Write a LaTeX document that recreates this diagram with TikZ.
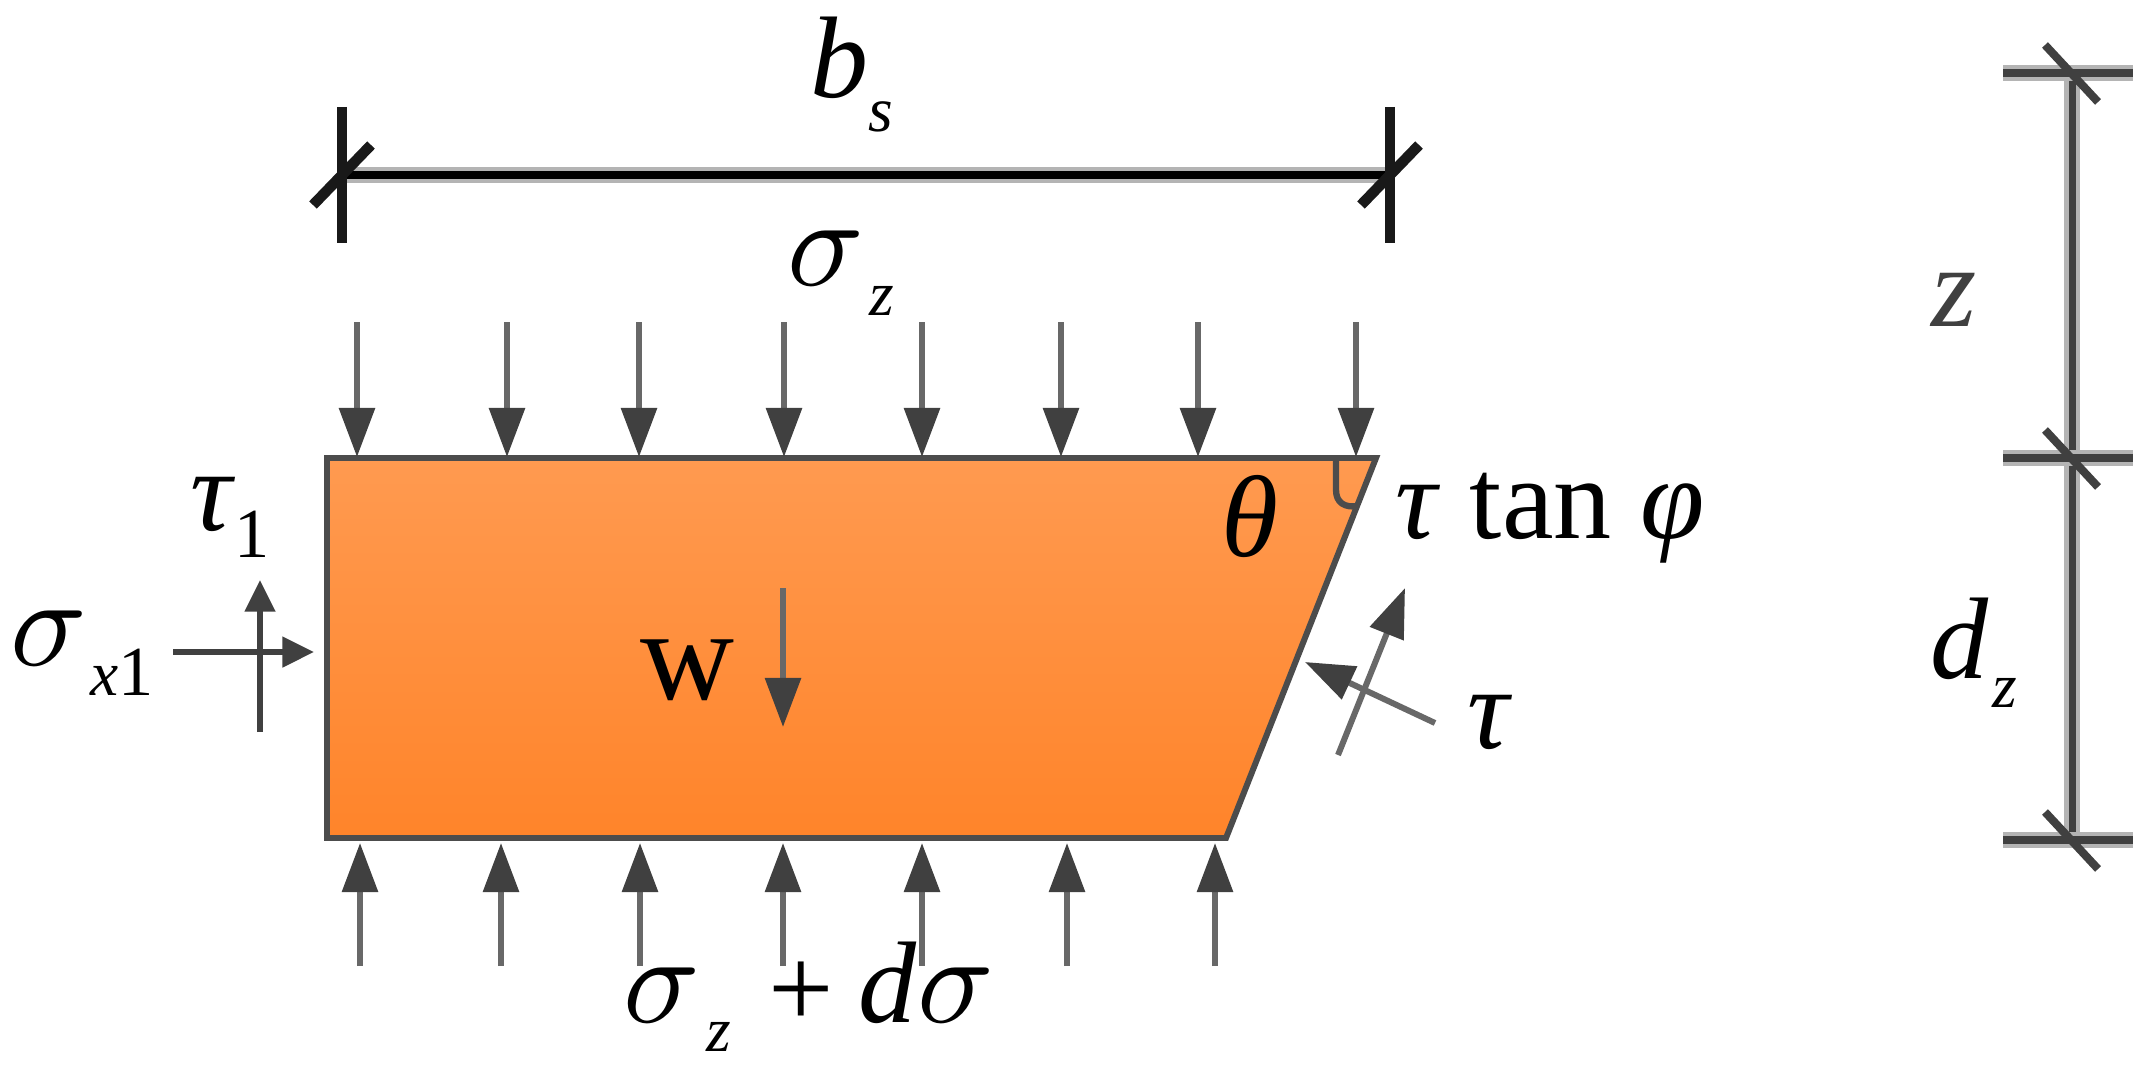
\documentclass[tikz,border=0pt]{standalone}
\usepackage{fontspec}
\setmainfont{Liberation Serif}
\usetikzlibrary{positioning,arrows.meta}

\definecolor{bodytop}{HTML}{FF9A50}
\definecolor{bodybottom}{HTML}{FF842A}
\definecolor{edgegray}{HTML}{4C4C4C}
\definecolor{headgray}{HTML}{404040}
\definecolor{loadgray}{HTML}{686868}
\definecolor{shadegray}{HTML}{B4B4B4}

\newcommand{\widesigma}{\scalebox{3.6}{\normalsize$\sigma$}}

\tikzset{
    force/.style={draw=loadgray, line width=1.7pt, -{Triangle[length=14pt, width=10pt, color=headgray]}},
    smallforce/.style={draw=headgray, line width=1.5pt, -{Triangle[length=9pt, width=8.5pt, color=headgray]}},
    dimline/.style={draw=headgray, line width=2pt, preaction={draw=shadegray, line width=4.8pt}},
    dimtick/.style={draw=headgray, line width=2.3pt},
    blackdim/.style={draw=black!90, line width=3pt},
    label/.style={inner sep=0pt, font=\fontsize{33}{36}\selectfont},
    sublabel/.style={inner sep=0pt, font=\itshape\fontsize{18}{20}\selectfont}
}

\begin{document}
\begin{tikzpicture}[x=0.01cm, y=-0.01cm]
    \useasboundingbox (0,0) rectangle (2152,1070);

    % Body
    \draw[draw=edgegray, line width=1.7pt, top color=bodytop, bottom color=bodybottom]
        (327,458) -- (1376,458) -- (1226,838) -- (327,838) -- cycle;
    \draw[draw=edgegray, line width=1.8pt] (1336,458) -- (1336,490) .. controls (1336,503) and (1345,508) .. (1358,506);

    % Loads
    \foreach \px in {357,507,639,784,922,1061,1198,1356}
        \draw[force] (\px,322) -- (\px,457);
    \foreach \px in {360,501,640,783,922,1067,1215}
        \draw[force] (\px,966) -- (\px,843);
    \draw[force] (783,588) -- (783,727);
    \draw[smallforce] (173,652) -- (314,652);
    \draw[smallforce] (260,732) -- (260,580);
    \draw[force] (1338,755) -- (1405,588);
    \draw[force] (1435,723) -- (1305,662);

    % Width
    \draw[dimline, draw=black, preaction={draw=shadegray!90!black}] (342,175) -- (1390,175);
    \foreach \px in {342,1390} {
        \draw[blackdim] (\px,107) -- (\px,243);
        \draw[blackdim] (\px-29,205) -- (\px+29,145);
    }

    % Depth
    \draw[dimline] (2072,73) -- (2072,840);
    \foreach \py in {73,458,840} {
        \draw[dimline] (2003,\py) -- (2133,\py);
        \draw[dimtick] (2045,\py-28) -- (2098,\py+29);
    }

    % Labels
    \node[label, anchor=base west] (bs) at (810,98) {\textit{b}};
    \node[sublabel] (bssub) at (881,117) {s};
    \node[label, anchor=base west] (sigmatop) at (787,285) {\widesigma};
    \node[sublabel] (sigmatopsub) at (882,301) {z};
    \node[label, anchor=base west] (tauone) at (190,530) {\textit{τ}};
    \node[sublabel, font=\fontsize{20}{22}\selectfont] (tauonesub) at (252,534) {1};
    \node[label, anchor=base west] (sigmaleft) at (10,665) {\widesigma};
    \node[sublabel, anchor=base west] (sigmaleftsub) at (90,695) {x{\upshape\fontsize{20}{22}\selectfont 1}};
    \node[label, font=\fontsize{37}{40}\selectfont] (weight) at (687,670) {w};
    \node[label] (theta) at (1250,516) {\textit{θ}};
    \node[label, anchor=base west] (tanlabel) at (1395,538) {\textit{τ} tan \textit{φ}};
    \node[label] (taulabel) at (1490,722) {\textit{τ}};
    \node[label, text=black!75] (zlabel) at (1954,300) {\textit{z}};
    \node[label, anchor=base west] (dlabel) at (1930,678) {\textit{d}};
    \node[sublabel] (dlabelsub) at (2005,693) {z};
    \node[label, anchor=base west] (sigmabottom) at (623,1022) {\widesigma};
    \node[sublabel] (sigmabottomsub) at (719,1037) {z};
    \node[label] (plus) at (801,995) {+};
    \node[label, anchor=base west] (dsigma) at (858,1022) {\textit{d}\widesigma};
\end{tikzpicture}
\end{document}
